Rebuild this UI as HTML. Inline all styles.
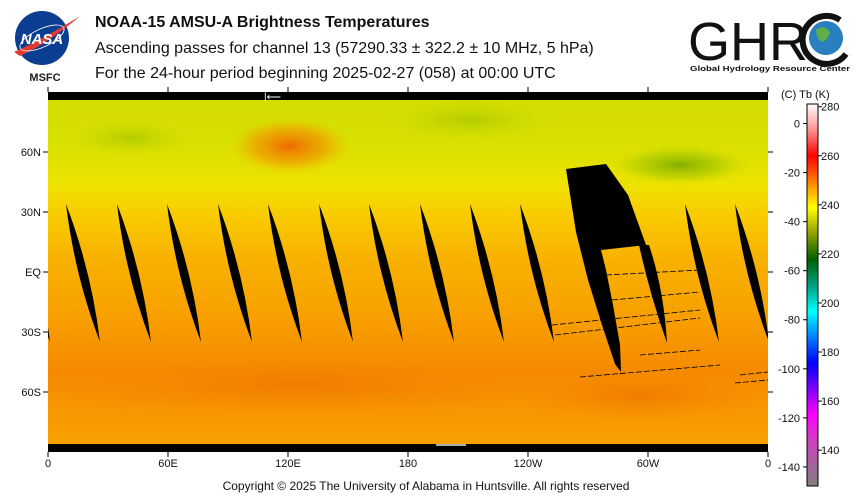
<!DOCTYPE html>
<html><head><meta charset="utf-8">
<style>
body{margin:0;background:#fff;width:854px;height:502px;overflow:hidden;font-family:"Liberation Sans",sans-serif;}
svg{display:block}
</style></head>
<body>
<svg id="chart" width="854" height="502" viewBox="0 0 854 502">
<defs>
<linearGradient id="bg" x1="0" y1="0" x2="0" y2="1">
<stop offset="0" stop-color="#d2dc00"/>
<stop offset="0.14" stop-color="#d8e000"/>
<stop offset="0.26" stop-color="#eee200"/>
<stop offset="0.34" stop-color="#f9cc00"/>
<stop offset="0.46" stop-color="#f8b200"/>
<stop offset="0.62" stop-color="#f8a000"/>
<stop offset="0.78" stop-color="#f58a00"/>
<stop offset="0.9" stop-color="#f89800"/>
<stop offset="1" stop-color="#f8a400"/>
</linearGradient>
<radialGradient id="hot" cx="0.5" cy="0.5" r="0.5">
<stop offset="0" stop-color="#ef6a00"/><stop offset="0.6" stop-color="#f39000" stop-opacity="0.6"/><stop offset="1" stop-color="#f5b000" stop-opacity="0"/>
</radialGradient>
<radialGradient id="green" cx="0.5" cy="0.5" r="0.5">
<stop offset="0" stop-color="#86b000"/><stop offset="0.6" stop-color="#a8c800" stop-opacity="0.6"/><stop offset="1" stop-color="#c8d800" stop-opacity="0"/>
</radialGradient>
<radialGradient id="gl" cx="0.5" cy="0.5" r="0.5">
<stop offset="0" stop-color="#b4cc00"/><stop offset="1" stop-color="#c8d800" stop-opacity="0"/>
</radialGradient>
<radialGradient id="sorange" cx="0.5" cy="0.5" r="0.5">
<stop offset="0" stop-color="#f07c00"/><stop offset="1" stop-color="#f48800" stop-opacity="0"/>
</radialGradient>
<linearGradient id="cbar" x1="0" y1="0" x2="0" y2="1">
<stop offset="0" stop-color="#ffffff"/>
<stop offset="0.068" stop-color="#ff9090"/>
<stop offset="0.136" stop-color="#ff0000"/>
<stop offset="0.204" stop-color="#ff8000"/>
<stop offset="0.271" stop-color="#ffff00"/>
<stop offset="0.339" stop-color="#90a000"/>
<stop offset="0.407" stop-color="#006000"/>
<stop offset="0.475" stop-color="#00a080"/>
<stop offset="0.543" stop-color="#00ffff"/>
<stop offset="0.611" stop-color="#0080ff"/>
<stop offset="0.678" stop-color="#0000ff"/>
<stop offset="0.746" stop-color="#8000ff"/>
<stop offset="0.814" stop-color="#ff00ff"/>
<stop offset="0.882" stop-color="#d040c0"/>
<stop offset="1" stop-color="#808080"/>
</linearGradient>
<clipPath id="mapclip"><rect x="48" y="92" width="720" height="360"/></clipPath>
</defs>

<g>
<circle cx="42" cy="38" r="27" fill="#0b3d91"/>
<path d="M14 52 Q45 38 80 16 Q50 42 20 56Z" fill="#e03c31"/>
<ellipse cx="42" cy="38" rx="24" ry="9" fill="none" stroke="#fff" stroke-width="0.8" transform="rotate(-25 42 38)"/>
<text x="42" y="44" font-size="15" font-weight="bold" fill="#fff" text-anchor="middle" font-style="italic">NASA</text>
<text x="45" y="81" font-size="11" font-weight="bold" fill="#222" text-anchor="middle">MSFC</text>
</g>
<text x="95" y="27" font-size="16" font-weight="bold" fill="#111">NOAA-15 AMSU-A Brightness Temperatures</text>
<text x="95" y="53" font-size="16" fill="#111">Ascending passes for channel 13 (57290.33 ± 322.2 ± 10 MHz, 5 hPa)</text>
<text x="95" y="78" font-size="16" fill="#111">For the 24-hour period beginning 2025-02-27 (058) at 00:00 UTC</text>

<g>
<text x="688" y="60" font-size="54" fill="#111" textLength="120" lengthAdjust="spacingAndGlyphs">GHR</text>
<circle cx="826" cy="38" r="17" fill="#2a7fc0"/>
<path d="M816 30 q8 -6 14 2 q-2 8 -8 10 q-6 -4 -6 -12Z" fill="#5fae4a"/>
<path d="M840 20 A24 24 0 1 0 846 54" fill="none" stroke="#111" stroke-width="6"/>
<text x="690" y="71" font-size="7" font-weight="bold" fill="#111" textLength="160" lengthAdjust="spacingAndGlyphs">Global Hydrology Resource Center</text>
</g>

<g clip-path="url(#mapclip)">
<rect x="48" y="92" width="720" height="360" fill="url(#bg)"/>
<ellipse cx="290" cy="146" rx="60" ry="28" fill="url(#hot)"/>
<ellipse cx="680" cy="165" rx="70" ry="20" fill="url(#green)"/>
<ellipse cx="130" cy="138" rx="60" ry="18" fill="url(#gl)"/>
<ellipse cx="470" cy="120" rx="80" ry="20" fill="url(#gl)"/>
<ellipse cx="300" cy="385" rx="260" ry="30" fill="url(#sorange)"/>
<ellipse cx="640" cy="395" rx="120" ry="25" fill="url(#sorange)"/>
<g id="swaths"></g>
<path d="M566 169 L606 164 L628 195 L646 245 L601 250 L606 270 L613 305 L620 345 L621 372 L615 364 L602 325 L588 280 L576 232 Z" fill="#000"/>
<g stroke="#000" stroke-width="0.8" stroke-dasharray="6 2">
<line x1="606" y1="275" x2="700" y2="270"/><line x1="612" y1="300" x2="700" y2="292"/>
<line x1="552" y1="325" x2="700" y2="310"/><line x1="555" y1="335" x2="700" y2="318"/>
<line x1="640" y1="355" x2="700" y2="350"/><line x1="580" y1="377" x2="720" y2="365"/>
<line x1="740" y1="375" x2="768" y2="372"/><line x1="735" y1="383" x2="768" y2="380"/>
</g>
<rect x="48" y="92" width="720" height="8" fill="#000"/>
<rect x="48" y="444" width="720" height="8" fill="#000"/>
<text x="264" y="100" font-size="10" fill="#fff">|⟵</text>
<rect x="436" y="444" width="30" height="2" fill="#aaa"/>
</g>

<g id="axes"></g>

<g>
<text x="781" y="98" font-size="11" fill="#111">(C)  Tb  (K)</text>
<rect x="807" y="104" width="11" height="382" fill="url(#cbar)" stroke="#000" stroke-width="1"/>
<g id="cbticks"></g>
</g>

<text x="426" y="490" font-size="12" fill="#111" text-anchor="middle">Copyright © 2025 The University of Alabama in Huntsville.  All rights reserved</text>
</svg>
<script>
const swathLons = [-16, 9, 34.5, 59.5, 85, 110, 135.5, 160.5, 186, 211, 236, 318.5, 343.5, 368.5];
const swathTopLat = 34;
const swathBotLat = -35;
const lonTickValues = [0, 60, 120, 180, 240, 300, 360];
const lonTickLabels = ["0", "60E", "120E", "180", "120W", "60W", "0"];
const latTickValues = [60, 30, 0, -30, -60];
const latTickLabels = ["60N", "30N", "EQ", "30S", "60S"];
const kelvinTicks = [280, 260, 240, 220, 200, 180, 160, 140];
const celsiusTicks = [0, -20, -40, -60, -80, -100, -120, -140];

const NS = "http://www.w3.org/2000/svg";
const xOf = lon => 48 + lon * 2;
const yOf = lat => 272 - lat * 2;
const yK = k => 106.7 + (280 - k) * 2.453;
function mk(tag, attrs, parent) { const e = document.createElementNS(NS, tag); for (const k in attrs) e.setAttribute(k, attrs[k]); parent.appendChild(e); return e; }

const sw = document.getElementById('swaths');
swathLons.forEach(lon => {
  const xt = xOf(lon), yt = yOf(swathTopLat);
  const xb = xt + 34, yb = yOf(swathBotLat);
  const mx = (xt + xb) / 2, my = (yt + yb) / 2;
  const p = mk('path', { d: `M${xt} ${yt} Q${mx + 8.5} ${my - 2} ${xb} ${yb} Q${mx - 8.5} ${my + 2} ${xt} ${yt}Z`, fill: '#000' }, sw);
  
  
});
{
  const p = mk('path', { d: `M639 245 L649 245 Q664 290 667 343 Q650 295 639 245Z`, fill: '#000' }, sw);
  
  
}

const ax = document.getElementById('axes');
lonTickValues.forEach((v, i) => {
  const x = xOf(v);
  mk('line', { x1: x, y1: 87, x2: x, y2: 92, stroke: '#000' }, ax);
  mk('line', { x1: x, y1: 452, x2: x, y2: 457, stroke: '#000' }, ax);
  const t = mk('text', { x: x, y: 467, 'font-size': 11, 'text-anchor': 'middle', fill: '#111' }, ax);
  t.textContent = lonTickLabels[i];
  
  
});
latTickValues.forEach((v, i) => {
  const y = yOf(v);
  mk('line', { x1: 43, y1: y, x2: 48, y2: y, stroke: '#000' }, ax);
  mk('line', { x1: 768, y1: y, x2: 773, y2: y, stroke: '#000' }, ax);
  const t = mk('text', { x: 41, y: y + 4, 'font-size': 11, 'text-anchor': 'end', fill: '#111' }, ax);
  t.textContent = latTickLabels[i];
  
  
});

const cb = document.getElementById('cbticks');
kelvinTicks.forEach(k => {
  const y = yK(k);
  mk('line', { x1: 818, y1: y, x2: 822, y2: y, stroke: '#000' }, cb);
  const t = mk('text', { x: 821, y: y + 4, 'font-size': 11, fill: '#111' }, cb);
  t.textContent = k;
  
  
});
celsiusTicks.forEach(c => {
  const y = yK(c + 273.15);
  mk('line', { x1: 803, y1: y, x2: 807, y2: y, stroke: '#000' }, cb);
  const t = mk('text', { x: 800, y: y + 4, 'font-size': 11, 'text-anchor': 'end', fill: '#111' }, cb);
  t.textContent = c;
  
  
});
</script>
</body></html>
